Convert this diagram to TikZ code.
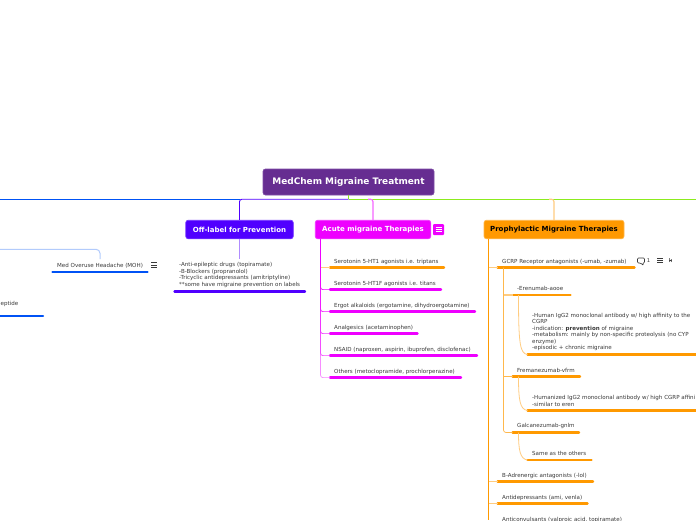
\documentclass[tikz,border=0pt]{standalone}
\usepackage{fontspec}
\setmainfont{DejaVu Sans}
\definecolor{rootc}{HTML}{662D91}
\definecolor{rootb}{HTML}{7E4CA6}
\definecolor{offc}{HTML}{5000FF}
\definecolor{magc}{HTML}{EE00FF}
\definecolor{orac}{HTML}{FF9900}
\definecolor{bluc}{HTML}{0052F5}
\definecolor{limc}{HTML}{8CEB1E}
\definecolor{txtc}{HTML}{3A3A3A}
\tikzset{
  txt/.style={anchor=west,inner sep=0pt,yshift=-0.7pt,text=txtc,font=\fontsize{5.55}{6.5}\selectfont,align=left},
  ul/.style={line width=2.4pt,line cap=round},
  conn/.style={line width=0.7pt,rounded corners=2.5pt},
  topbox/.style={rounded corners=2.5pt,line width=0.7pt,inner sep=0pt,minimum height=18.5pt,text=white,font=\fontsize{7}{8}\selectfont\bfseries},
  iconline/.style={line width=0.7pt},
}
\newcommand{\burger}[3]{%
  \draw[iconline,#3] (#1-3,#2-2.2) -- (#1+3,#2-2.2) (#1-3,#2) -- (#1+3,#2) (#1-3,#2+2.2) -- (#1+3,#2+2.2);}
\newcommand{\leaf}[7]{% name, text x, text y, x0, x1, ul y, text
  \node[txt] (#1) at (#2,#3) {#7};
  \coordinate (#1-l) at (#4,#6);
  \coordinate (#1-r) at (#5,#6);
  \draw[ul,#1col] (#1-l) -- (#1-r);}
\begin{document}
\begin{tikzpicture}[x=1pt,y=-1pt]
\useasboundingbox (0,0) rectangle (696,520);
\clip (0,0) rectangle (696,520);
\fill[white] (0,0) rectangle (696,520);
\colorlet{s1col}{orac}\colorlet{s2col}{magc}\colorlet{s3col}{magc}\colorlet{s4col}{magc}\colorlet{s5col}{magc}\colorlet{s6col}{magc}
\colorlet{gcol}{orac}\colorlet{ecol}{orac}\colorlet{edcol}{orac}\colorlet{fcol}{orac}\colorlet{fdcol}{orac}\colorlet{kcol}{orac}\colorlet{kdcol}{orac}\colorlet{bcol}{orac}\colorlet{acol}{orac}
\colorlet{mohcol}{bluc}\colorlet{pepcol}{bluc}\colorlet{offdcol}{offc}

% main boxes
\node[topbox,fill=rootc,draw=rootb,minimum width=171pt,minimum height=26pt,font=\fontsize{8.95}{10}\selectfont\bfseries] (root) at (348.5,182) {\raisebox{-0.8pt}{MedChem Migraine Treatment}};
\node[topbox,fill=offc,draw=offc!80!white,minimum width=107.5pt] (off) at (239.5,229.5) {Off-label for Prevention};
\node[topbox,fill=magc,draw=magc!80!white,minimum width=115.5pt] (acute) at (373,229.5) {Acute migraine Therapies};
\node[topbox,fill=orac,draw=orac!70!white,minimum width=140pt,text=black] (pro) at (554,229.5) {Prophylactic Migraine Therapies};

% bus level junctions
\coordinate (bus) at (348.5,199.2);
\coordinate (busL) at (0,199.2);
\coordinate (busR) at (696,199.2);
\coordinate (hookA) at (368,199.2);
\coordinate (hookP) at (549,199.2);
\draw[line width=0.9pt,limc] (root.south) -- (bus);
\draw[line width=1pt,limc] (bus) -- (busR);
\draw[conn,magc!60!white,line width=1.1pt] (hookA) -| (acute.north);
\draw[conn,orac!50!white,line width=1.1pt] (hookP) -| (pro.north);
\draw[conn,offc,line width=0.9pt] (bus) -| (off.north);
\draw[line width=0.9pt,bluc] (busL) -- (off.north |- busL);

% acute items
\leaf{s1}{334}{261}{330}{444}{267.6}{Serotonin 5-HT1 agonists i.e. triptans}
\leaf{s2}{334}{283}{330}{441}{289.6}{Serotonin 5-HT1F agonists i.e. titans}
\leaf{s3}{334}{305.3}{330}{475}{311.6}{Ergot alkaloids (ergotamine, dihydroergotamine)}
\leaf{s4}{334}{327.3}{330}{417.5}{333.6}{Analgesics (acetaminophen)}
\leaf{s5}{334}{349.3}{330}{477}{355.6}{NSAID (naproxen, aspirin, ibuprofen, disclofenac)}
\leaf{s6}{334}{371.3}{330}{461}{377.6}{Others (metoclopramide, prochlorperazine)}
\coordinate (at) at (320.5,238.5);
\draw[conn,magc!45!white] (at) |- (s6-l);
\draw[conn,magc!70!white] (at) |- (s5-l);
\draw[conn,magc!80!white] (at) |- (s4-l);
\draw[conn,magc!90!white] (at) |- (s3-l);
\draw[conn,magc] (at) |- (s2-l);
\draw[conn,orac!50!white] (at |- s1-l) -- (s1-l);
\draw[magc,line width=0.9pt] (at) -- (320.5,275);
\node[fill=magc,rounded corners=1pt,minimum width=11pt,minimum height=11pt,inner sep=0pt] (acuteicon) at (438.5,229.5) {};
\burger{438.5}{229.5}{white}

% off-label detail
\leaf{offd}{179}{274.5}{174.5}{305}{291.6}{-Anti-epileptic drugs (topiramate)\\-B-Blockers (propranolol)\\-Tricyclic antidepressants (amitriptyline)\\**some have migraine prevention on labels}
\coordinate (offj) at (239.5,259);
\draw[offc!45!white,line width=0.8pt] (off.south) -- (offj);

% left part
\leaf{moh}{57}{265}{52.5}{147.5}{272}{Med Overuse Headache (MOH)}
\coordinate (mohj) at (100,259);
\coordinate (mohL) at (0,249.3);
\draw[conn,bluc!30!white,line width=1pt,rounded corners=4pt] (mohL) -| (mohj);
\burger{154}{265}{txtc}
\leaf{pep}{0}{303}{-5}{43}{316}{\phantom{}}
\node[anchor=east,inner sep=0pt,yshift=-0.7pt,text=txtc,font=\fontsize{5.55}{6.5}\selectfont] (pept) at (18.5,303) {eptide};

% prophylactic
\coordinate (pt) at (488.5,238.5);
\draw[orac,line width=1pt] (pt) -- (488.5,520);
\leaf{g}{502}{261}{497.5}{634.5}{267.6}{GCRP Receptor antagonists (-umab, -zumab)}
\coordinate (gt) at (503.5,267.6);
\leaf{e}{517}{288}{512.5}{570.5}{295}{-Erenumab-aooe}
\leaf{ed}{532}{331.5}{527.5}{700}{354.5}{-Human IgG2 monoclonal antibody w/ high affinity to the\\CGRP\\-indication: \textbf{prevention} of migraine\\-metabolism: mainly by non-specific proteolysis (no CYP\\enzyme)\\-episodic + chronic migraine}
\leaf{f}{517}{370}{512.5}{580}{376.5}{Fremanezumab-vfrm}
\leaf{fd}{532}{400}{527.5}{700}{410.5}{-Humanized IgG2 monoclonal antibody w/ high CGRP affini\\-similar to eren}
\leaf{k}{517}{425}{512.5}{579}{432.5}{Galcanezumab-gnlm}
\leaf{kd}{532}{453}{527.5}{591.5}{460}{Same as the others}
\leaf{b}{502}{475}{497.5}{593}{481.5}{B-Adrenergic antagonists (-lol)}
\leaf{a}{502}{497}{497.5}{587.5}{503.5}{Antidepressants (ami, venla)}
\node[txt] (ac) at (502,519) {Anticonvulsants (valproic acid, topiramate)};
\draw[conn,orac!50!white] (pt |- g-l) -- (g-l);
\draw[conn,orac!50!white] (pt |- b-l) -- (b-l);
\draw[conn,orac!50!white] (pt |- a-l) -- (a-l);
\draw[conn,orac!70!white] (gt) |- (k-l);
\draw[conn,orac!70!white] (gt |- f-l) -- (f-l);
\draw[orac!50!white,line width=1.2pt] (gt |- e-l) -- (e-l);
\foreach \p/\c in {e/ed,f/fd,k/kd}{
  \draw[orac!50!white,line width=0.8pt] (518.5,0 |- \p-l) .. controls ([yshift=10pt]518.5,0 |- \c-l) and ([yshift=1pt]520,0 |- \c-l) .. (\c-l);
}
% GCRP icons
\draw[line width=0.6pt,txtc,rounded corners=1pt] (637.5,258) -- (644.5,258) -- (644.5,263) -- (642.5,263) -- (643.5,265.5) -- (640.5,263) -- (637.5,263) -- cycle;
\node[inner sep=0pt,text=txtc,font=\fontsize{5.3}{6.5}\selectfont] (cnt) at (648.5,260.5) {1};
\burger{660}{260.5}{txtc}
\draw[line width=0.5pt,txtc] (669.3,258) -- (669.3,261.5) arc[start angle=180,end angle=360,radius=1.2] -- (671.7,259);
\end{tikzpicture}
\end{document}
